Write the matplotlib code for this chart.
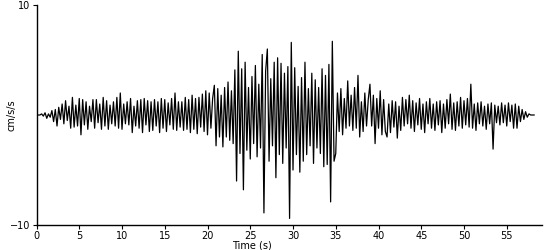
import numpy as np
import matplotlib
matplotlib.use("Agg")
import matplotlib.pyplot as plt

# Sample interval (s) of the digitised record
dt = 0.2

# Acceleration values (cm/s/s), one row per second (5 samples each)
accel = [
    0.0, 0.0, 0.0, 0.1, -0.1,      # 0
    0.2, -0.3, 0.1, -0.2, 0.4,     # 1
    -0.6, 0.5, -1.0, 0.7, -0.4,    # 2
    1.0, -0.8, 1.3, -0.5, 0.8,     # 3
    -1.2, 1.6, -1.1, 0.9, -1.0,    # 4
    1.5, -1.8, 1.4, -0.9, 1.2,     # 5
    -1.3, 0.8, -0.6, 1.4, -1.2,    # 6
    1.4, -0.7, 1.0, -1.3, 1.6,     # 7
    -1.0, 1.3, -1.3, 0.9, -0.8,    # 8
    1.2, -1.0, 1.6, -1.2, 2.0,     # 9
    -1.3, 1.0, -0.8, 1.2, -0.9,    # 10
    1.5, -1.6, 0.8, -1.0, 1.3,     # 11
    -1.2, 1.4, -1.6, 1.5, -0.9,    # 12
    1.3, -1.5, 1.2, -1.4, 1.4,     # 13
    -1.0, 1.2, -1.6, 1.5, -1.2,    # 14
    1.4, -1.5, 1.1, -0.9, 1.5,     # 15
    -1.3, 2.0, -1.4, 1.2, -1.1,    # 16
    1.2, -1.4, 1.6, -1.3, 1.4,     # 17
    -1.6, 1.8, -1.3, 1.5, -1.7,    # 18
    1.6, -1.1, 1.9, -1.5, 2.2,     # 19
    -1.8, 2.0, -1.2, 1.5, 2.7,     # 20
    -2.8, 2.4, -2.0, 1.8, -2.9,    # 21
    2.5, -2.0, 3.0, -2.3, 2.2,     # 22
    -2.6, 4.1, -6.0, 5.8, -3.5,    # 23
    4.2, -6.8, 4.8, -3.2, 2.5,     # 24
    -4.0, 3.5, -2.6, 4.5, -3.8,    # 25
    2.8, -3.0, 5.5, -8.9, 4.0,     # 26
    6.0, -4.2, 3.3, -2.8, 4.8,     # 27
    -5.7, 5.2, -3.6, 4.7, -4.4,    # 28
    3.8, -3.0, 4.4, -9.4, 6.6,     # 29
    -5.0, 4.3, -3.6, 2.6, -5.2,    # 30
    3.4, -4.2, 4.8, -3.6, 2.4,     # 31
    -2.8, 3.8, -4.4, 3.2, -3.0,    # 32
    2.5, -3.5, 4.2, -4.7, 3.6,     # 33
    -4.5, 4.6, -7.9, 6.7, -4.2,    # 34
    -3.5, 2.0, -1.5, 2.4, -1.8,    # 35
    1.5, -1.2, 3.1, -1.0, 1.8,     # 36
    -1.4, 2.5, -1.2, 3.6, -2.0,    # 37
    1.2, -1.5, 2.0, -1.0, 1.4,     # 38
    2.8, -1.0, 1.8, -2.6, 1.5,     # 39
    -1.2, 2.2, -1.8, 1.4, -1.5,    # 40
    -2.0, 1.0, -1.6, 1.3, -1.1,    # 41
    1.2, -2.1, 0.8, -1.4, 1.6,     # 42
    -1.0, 1.4, -0.8, 1.8, -1.2,    # 43
    1.3, -1.5, 1.1, -0.9, 1.5,     # 44
    -1.3, 1.0, -1.6, 1.2, -0.8,    # 45
    1.5, -1.2, 1.0, -1.4, 1.2,     # 46
    -0.9, 1.3, -1.6, 1.0, -1.2,    # 47
    1.4, -0.8, 1.9, -1.3, 1.1,     # 48
    -1.4, 1.2, -1.0, 1.6, -1.2,    # 49
    1.3, -0.9, 1.5, -1.1, 2.8,     # 50
    -1.2, 1.0, -1.4, 1.1, -0.8,    # 51
    1.2, -1.0, 0.8, -1.3, 1.0,     # 52
    -0.8, 1.1, -3.1, 0.9, -0.7,    # 53
    0.8, -0.9, 1.1, -0.7, 0.9,     # 54
    -1.0, 1.1, -0.6, 0.9, -1.2,    # 55
    1.0, -1.2, 0.8, -0.6, 0.5,     # 56
    -0.4, 0.3, -0.2, 0.1, 0.0,     # 57
    0.0, 0.0,                      # 58
]

x_ticks = [0, 5, 10, 15, 20, 25, 30, 35, 40, 45, 50, 55]
y_ticks = [-10, 10]
x_label = "Time (s)"
y_label = "cm/s/s"

time = np.arange(len(accel)) * dt

fig = plt.figure(figsize=(5.5, 2.5), dpi=100)
ax = fig.add_axes([36.5 / 550, 25 / 250, (542 - 36.5) / 550, 220 / 250])
ax.plot(time, accel, color="black", linewidth=0.9)

ax.set_xlim(0, (542 - 36.5) / 8.55)
ax.set_ylim(-10, 10)
ax.set_xticks(x_ticks)
ax.set_yticks(y_ticks)
ax.tick_params(axis="both", labelsize=7, length=3, width=0.8, pad=1.5, colors="black")
for s in ["top", "right"]:
    ax.spines[s].set_visible(False)
for s in ["left", "bottom"]:
    ax.spines[s].set_linewidth(1.0)
    ax.spines[s].set_color("black")

fig.text(252 / 550, 1 - 245.5 / 250, x_label, ha="center", va="center", fontsize=7)
fig.text(12 / 550, 1 - 115 / 250, y_label, ha="center", va="center", rotation=90, fontsize=7)

fig.savefig("out.png", dpi=100, facecolor="white")
